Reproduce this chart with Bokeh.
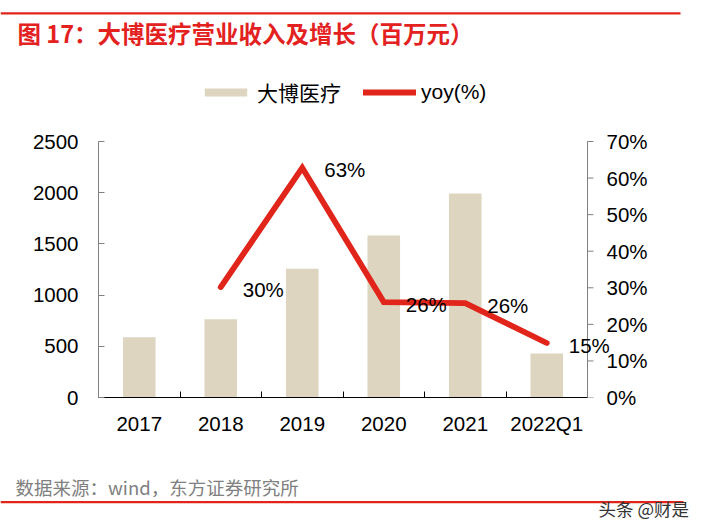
from bokeh.plotting import figure
from bokeh.layouts import column
from bokeh.models import (Range1d, LinearAxis, FixedTicker, PrintfTickFormatter,
                          LabelSet, Legend, LegendItem, ColumnDataSource)
from bokeh.core.properties import value
from bokeh.embed import file_html
from bokeh.resources import INLINE

# ---- data ----
categories = ["2017", "2018", "2019", "2020", "2021", "2022Q1"]
revenue = [589, 765, 1257, 1582, 1992, 430]
yoy_categories = ["2018", "2019", "2020", "2021", "2022Q1"]
yoy = [30.2, 62.8, 26.1, 25.8, 14.9]
left_ticks = [0, 500, 1000, 1500, 2000, 2500]
right_ticks = [0, 10, 20, 30, 40, 50, 60, 70]

title_text = "图 17：大博医疗营业收入及增长（百万元）"
source_text = "数据来源：wind，东方证券研究所"
watermark_text = "头条 @财是"
bar_name = "大博医疗"
line_name = "yoy(%)"

# ---- styles ----
BAR = "#ddd5bf"
RED = "#e1251b"
TITLE_RED = "#e3221f"
AXIS_GRAY = "#808080"
NUM_FONT = "Liberation Sans"
CJK_FONT = "Noto Sans CJK SC"
TICK_SIZE = "20.5px"
W = 706

idx = {c: i + 0.5 for i, c in enumerate(categories)}
xs = [idx[c] for c in categories]
yoy_x = [idx[c] for c in yoy_categories]
n = len(categories)


def blank(h):
    f = figure(width=W, height=h, output_backend="svg", toolbar_location=None,
               x_range=Range1d(0, W), y_range=Range1d(h, 0),
               x_axis_location=None, y_axis_location=None,
               min_border=0, title=None, frame_align=False)
    f.outline_line_color = None
    f.grid.visible = False
    f.background_fill_color = "white"
    f.border_fill_color = "white"
    return f


# ---- header: rule + title ----
HH = 50
head = blank(HH)
head.segment(x0=[0], y0=[12.8], x1=[680], y1=[12.8], line_color=RED, line_width=2.3)
head.text(x=[17], y=[32], text=[title_text], text_baseline="middle", text_align="left",
          text_font=value(CJK_FONT), text_font_size="23.5px", text_font_style="bold",
          text_color=TITLE_RED)

# ---- main chart ----
MH = 410
L = 98            # frame left
FR = 612          # frame right (room for the last data label)
AX_R = 587        # right axis line
AX_TOP = 141      # page y of top tick
AX_BOT = 397      # page y of zero line
BOTTOM = HH + MH - AX_BOT
plot_h = AX_BOT - HH                      # frame height (frame starts at header bottom)
scale = plot_h / (AX_BOT - AX_TOP)
x_end = n * (FR - L) / (AX_R - L)
p = figure(width=W, height=MH, output_backend="svg", toolbar_location=None,
           x_range=Range1d(0, x_end), y_range=Range1d(0, left_ticks[-1] * scale),
           min_border_left=L, min_border_right=W - FR, min_border_top=0,
           min_border_bottom=BOTTOM, title=None, frame_align=False)
p.outline_line_color = None
p.xgrid.visible = False
p.ygrid.visible = False
p.background_fill_color = "white"
p.border_fill_color = "white"
p.extra_y_ranges = {"yoy": Range1d(0, right_ticks[-1] * scale)}

bars = p.vbar(x=xs, top=revenue, width=0.4, fill_color=BAR, line_color=None)
ln = p.line(x=yoy_x, y=yoy, y_range_name="yoy", line_color=RED, line_width=5.8,
            line_cap="round", line_join="miter")

xa = p.xaxis[0]
xa.bounds = (0, n)
xa.ticker = FixedTicker(ticks=xs, minor_ticks=list(range(1, n)))
xa.major_label_overrides = {x: c for x, c in zip(xs, categories)}
xa.major_tick_line_color = None
xa.major_tick_in = 0
xa.major_tick_out = 0
xa.minor_tick_in = 6
xa.minor_tick_out = 0
xa.minor_tick_line_color = "black"
xa.axis_line_color = "black"
xa.major_label_text_font = NUM_FONT
xa.major_label_text_font_size = TICK_SIZE
xa.major_label_text_color = "black"
xa.major_label_standoff = 14

ya = p.yaxis[0]
ya.bounds = (left_ticks[0], left_ticks[-1])
ya.ticker = FixedTicker(ticks=left_ticks)
ya.axis_line_color = AXIS_GRAY
ya.major_tick_line_color = AXIS_GRAY
ya.major_tick_in = 6
ya.major_tick_out = 0
ya.minor_tick_line_color = None
ya.major_label_text_font = NUM_FONT
ya.major_label_text_font_size = TICK_SIZE
ya.major_label_text_color = "black"
ya.major_label_standoff = 20

# right-hand axis line + outward ticks at the last category edge
p.segment(x0=[n], y0=[right_ticks[0]], x1=[n], y1=[right_ticks[-1]], y_range_name="yoy",
          line_color=AXIS_GRAY, line_width=1)
p.ray(x=[n] * len(right_ticks), y=right_ticks, length=6, length_units="screen", angle=0,
      y_range_name="yoy", line_color=AXIS_GRAY, line_width=1)

# right-hand axis labels
ra = LinearAxis(y_range_name="yoy", ticker=FixedTicker(ticks=right_ticks),
                formatter=PrintfTickFormatter(format="%d%%"))
ra.axis_line_color = None
ra.major_tick_line_color = None
ra.major_tick_in = 0
ra.major_tick_out = 0
ra.minor_tick_line_color = None
ra.major_label_text_font = NUM_FONT
ra.major_label_text_font_size = TICK_SIZE
ra.major_label_text_color = "black"
ra.major_label_standoff = (AX_R + 19) - FR
p.add_layout(ra, "right")

src = ColumnDataSource(dict(x=yoy_x, y=yoy, t=[f"{round(v)}%" for v in yoy]))
p.add_layout(LabelSet(x="x", y="y", text="t", source=src, y_range_name="yoy",
                      x_offset=22, y_offset=-2, text_align="left", text_baseline="middle",
                      text_font=value(NUM_FONT), text_font_size=value(TICK_SIZE),
                      text_color="black"))

legend = Legend(items=[LegendItem(label=bar_name, renderers=[bars]),
                       LegendItem(label=line_name, renderers=[ln])],
                orientation="horizontal", location=(199 - L, AX_BOT - 107),
                glyph_width=53, glyph_height=10, label_standoff=5, spacing=22,
                padding=0, margin=0, border_line_color=None, background_fill_alpha=0,
                label_text_font="Liberation Sans, Noto Sans CJK SC",
                label_text_font_size="21px", label_text_color="black")
p.add_layout(legend)

# ---- footer: source, rule, watermark ----
FH = 532 - HH - MH
foot = blank(FH)
foot.text(x=[15], y=[26], text=[source_text], text_baseline="middle", text_align="left",
          text_font=value(CJK_FONT), text_font_size="18.5px", text_color="#808080")
foot.segment(x0=[0], y0=[41.7], x1=[683], y1=[41.7], line_color=RED, line_width=2.2)
foot.text(x=[598], y=[48], text=[watermark_text], text_baseline="middle", text_align="left",
          text_font=value(CJK_FONT), text_font_size="17.5px", text_color="#333333")

layout = column(head, p, foot, spacing=0)
open("out.html", "w").write(file_html(layout, INLINE))
